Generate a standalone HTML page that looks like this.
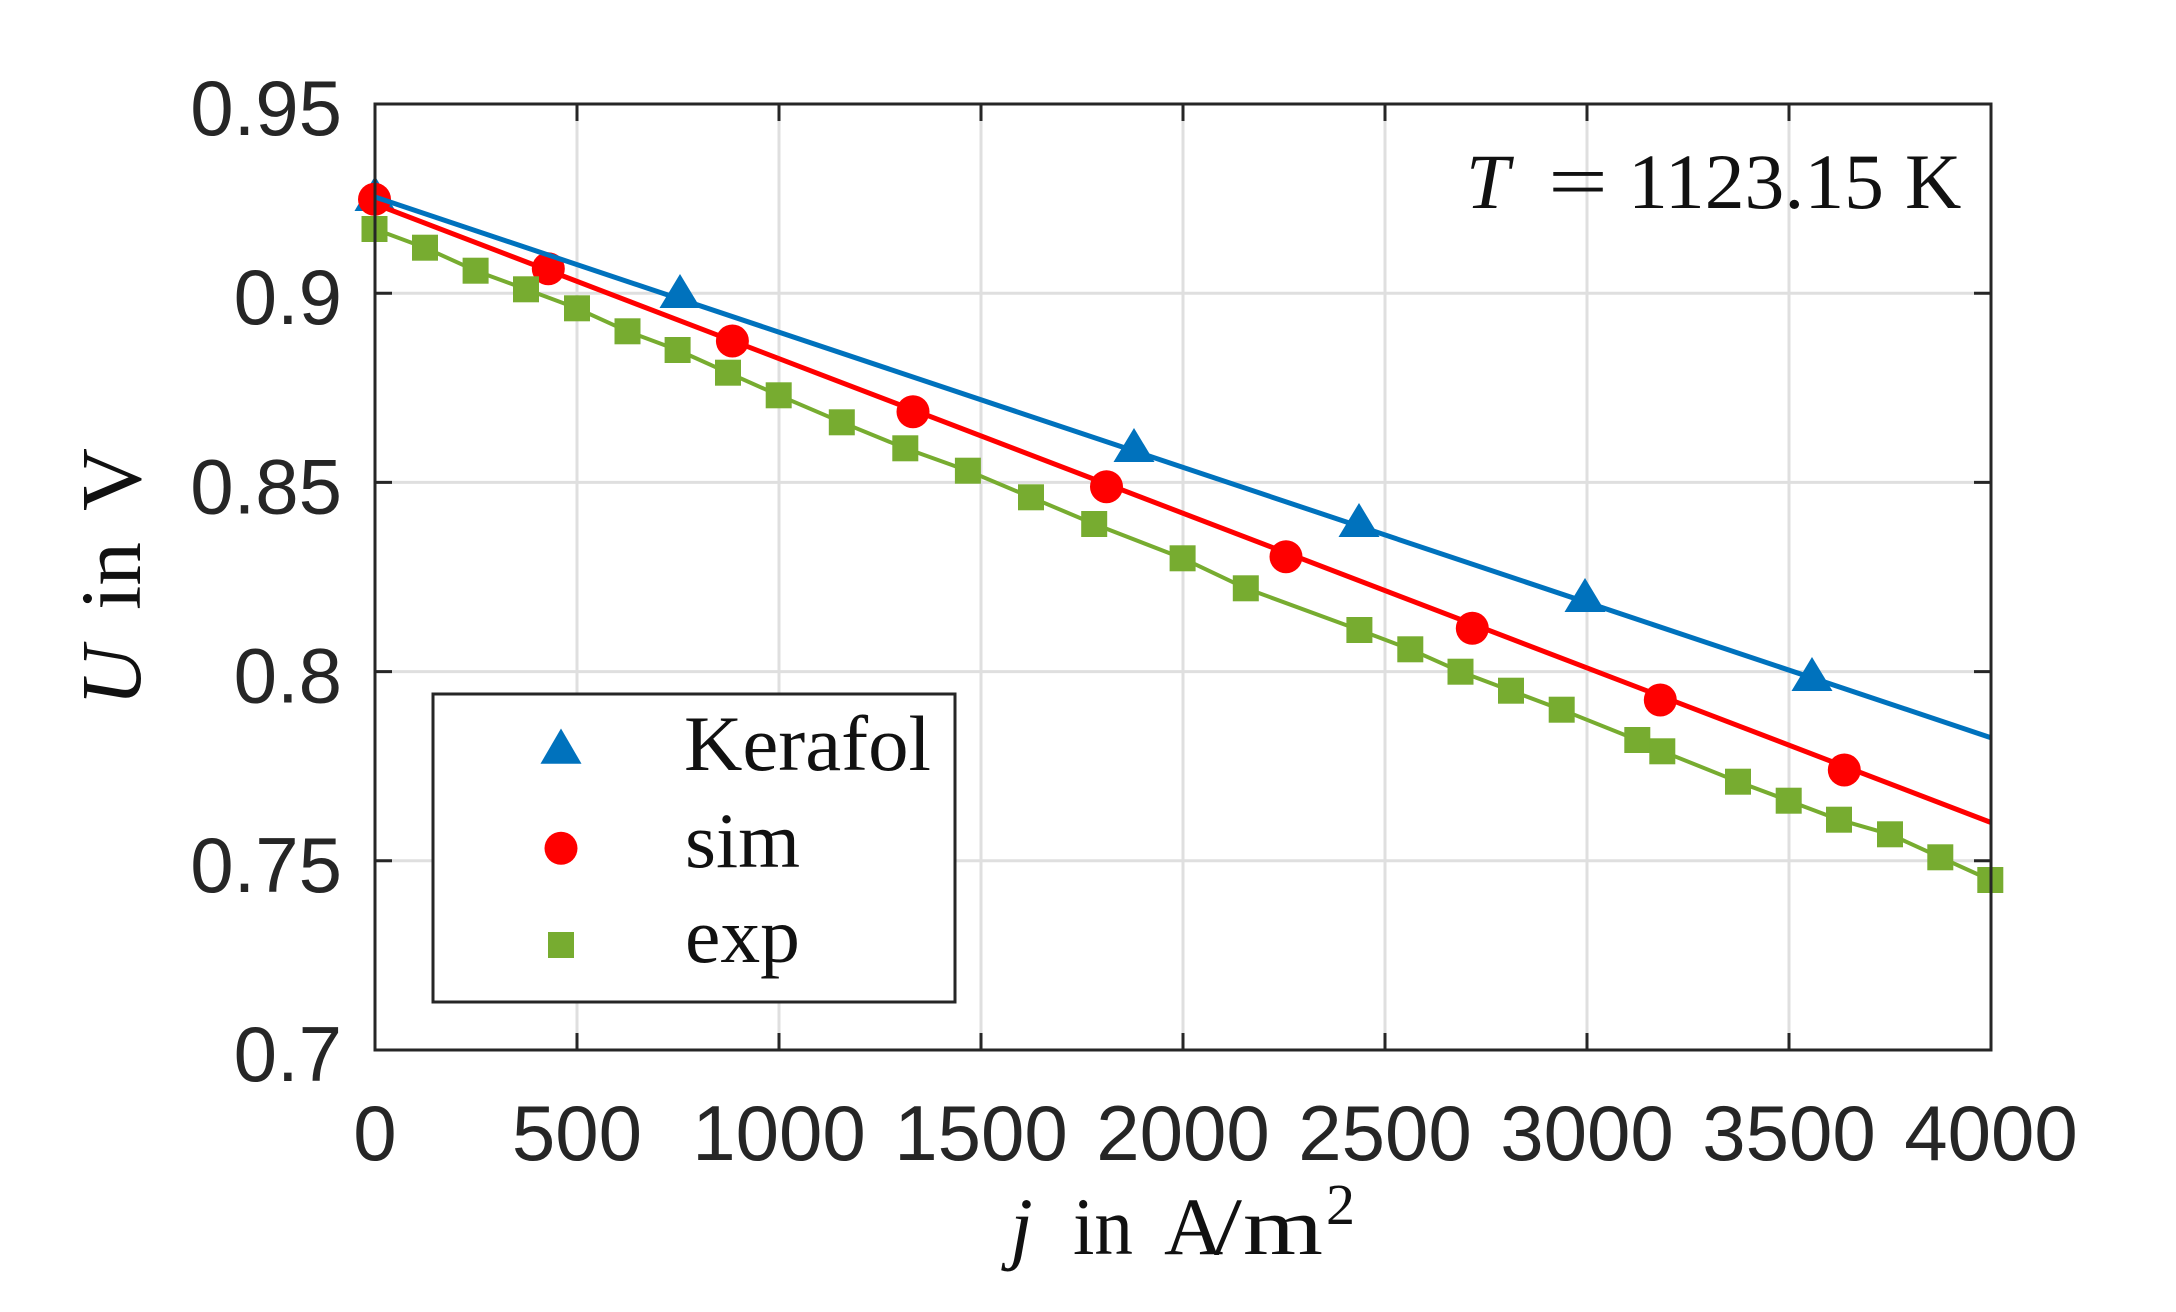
<!DOCTYPE html>
<html>
<head>
<meta charset="utf-8">
<style>
  html,body{margin:0;padding:0;background:#fff;}
  svg{display:block;}
  .tick{font-family:"Liberation Sans",Arial,sans-serif;font-size:78px;fill:#262626;}
  .tex{font-family:"Liberation Serif","Times New Roman",serif;fill:#111;}
</style>
</head>
<body>
<svg width="2176" height="1312" viewBox="0 0 2176 1312" xmlns="http://www.w3.org/2000/svg">
  <rect x="0" y="0" width="2176" height="1312" fill="#fff"/>

  <!-- grid -->
  <g stroke="#dfdfdf" stroke-width="3">
    <line x1="577" y1="104" x2="577" y2="1050"/>
    <line x1="779" y1="104" x2="779" y2="1050"/>
    <line x1="981" y1="104" x2="981" y2="1050"/>
    <line x1="1183" y1="104" x2="1183" y2="1050"/>
    <line x1="1385" y1="104" x2="1385" y2="1050"/>
    <line x1="1587" y1="104" x2="1587" y2="1050"/>
    <line x1="1789" y1="104" x2="1789" y2="1050"/>
    <line x1="375" y1="293.2" x2="1991" y2="293.2"/>
    <line x1="375" y1="482.4" x2="1991" y2="482.4"/>
    <line x1="375" y1="671.6" x2="1991" y2="671.6"/>
    <line x1="375" y1="860.8" x2="1991" y2="860.8"/>
  </g>

  <!-- Kerafol triangles -->
  <g fill="#0072BD">
    <polygon points="354.5,211 395.5,211 375,176"/>
    <polygon points="659.5,308 700.5,308 680,274"/>
    <polygon points="1113.5,462 1154.5,462 1134,428"/>
    <polygon points="1338.5,537 1379.5,537 1359,503"/>
    <polygon points="1564.5,612 1605.5,612 1585,578"/>
    <polygon points="1791.5,691 1832.5,691 1812,657"/>
  </g>

  <!-- sim circles -->
  <g fill="#FF0000">
    <circle cx="374.5" cy="199.3" r="16.5"/>
    <circle cx="548.3" cy="268.7" r="16.5"/>
    <circle cx="732.4" cy="341" r="16.5"/>
    <circle cx="913" cy="411.7" r="16.5"/>
    <circle cx="1106.5" cy="486.7" r="16.5"/>
    <circle cx="1286" cy="556.7" r="16.5"/>
    <circle cx="1472.3" cy="628.3" r="16.5"/>
    <circle cx="1660.3" cy="700" r="16.5"/>
    <circle cx="1844.3" cy="770" r="16.5"/>
  </g>

  <!-- exp line + squares -->
  <polyline fill="none" stroke="#77AC30" stroke-width="4" stroke-linejoin="round"
    points="374.5,229 425,247.7 475.6,270.7 526,289.3 577,308.3 627.5,331.3 677.6,350 728,372.7 778.7,395.3 841.8,422.3 905.3,448.3 967.9,470.7 1031,497.3 1094.2,524 1182.6,558.3 1245.8,588.3 1359.4,630 1410.3,649.3 1460.5,671.7 1511,690.7 1561.7,709.7 1637.3,740 1662.3,751.3 1738,781.7 1788.7,800.7 1839,819.7 1890,834.3 1940.3,857.3 1990.3,880"/>
  <g fill="#77AC30">
    <rect x="361.5" y="216" width="26" height="26"/>
    <rect x="412" y="234.7" width="26" height="26"/>
    <rect x="462.6" y="257.7" width="26" height="26"/>
    <rect x="513" y="276.3" width="26" height="26"/>
    <rect x="564" y="295.3" width="26" height="26"/>
    <rect x="614.5" y="318.3" width="26" height="26"/>
    <rect x="664.6" y="337" width="26" height="26"/>
    <rect x="715" y="359.7" width="26" height="26"/>
    <rect x="765.7" y="382.3" width="26" height="26"/>
    <rect x="828.8" y="409.3" width="26" height="26"/>
    <rect x="892.3" y="435.3" width="26" height="26"/>
    <rect x="954.9" y="457.7" width="26" height="26"/>
    <rect x="1018" y="484.3" width="26" height="26"/>
    <rect x="1081.2" y="511" width="26" height="26"/>
    <rect x="1169.6" y="545.3" width="26" height="26"/>
    <rect x="1232.8" y="575.3" width="26" height="26"/>
    <rect x="1346.4" y="617" width="26" height="26"/>
    <rect x="1397.3" y="636.3" width="26" height="26"/>
    <rect x="1447.5" y="658.7" width="26" height="26"/>
    <rect x="1498" y="677.7" width="26" height="26"/>
    <rect x="1548.7" y="696.7" width="26" height="26"/>
    <rect x="1624.3" y="727" width="26" height="26"/>
    <rect x="1649.3" y="738.3" width="26" height="26"/>
    <rect x="1725" y="768.7" width="26" height="26"/>
    <rect x="1775.7" y="787.7" width="26" height="26"/>
    <rect x="1826" y="806.7" width="26" height="26"/>
    <rect x="1877" y="821.3" width="26" height="26"/>
    <rect x="1927.3" y="844.3" width="26" height="26"/>
    <rect x="1977.3" y="867" width="26" height="26"/>
  </g>

  <!-- fit lines -->
  <line x1="375" y1="204" x2="1991" y2="822.5" stroke="#FF0000" stroke-width="5"/>
  <line x1="375" y1="197" x2="1991" y2="737.7" stroke="#0072BD" stroke-width="5"/>

  <!-- axes box -->
  <rect x="375" y="104" width="1616" height="946" fill="none" stroke="#262626" stroke-width="3"/>
  <!-- ticks -->
  <g stroke="#262626" stroke-width="3">
    <line x1="577" y1="1050" x2="577" y2="1033"/><line x1="577" y1="104" x2="577" y2="121"/>
    <line x1="779" y1="1050" x2="779" y2="1033"/><line x1="779" y1="104" x2="779" y2="121"/>
    <line x1="981" y1="1050" x2="981" y2="1033"/><line x1="981" y1="104" x2="981" y2="121"/>
    <line x1="1183" y1="1050" x2="1183" y2="1033"/><line x1="1183" y1="104" x2="1183" y2="121"/>
    <line x1="1385" y1="1050" x2="1385" y2="1033"/><line x1="1385" y1="104" x2="1385" y2="121"/>
    <line x1="1587" y1="1050" x2="1587" y2="1033"/><line x1="1587" y1="104" x2="1587" y2="121"/>
    <line x1="1789" y1="1050" x2="1789" y2="1033"/><line x1="1789" y1="104" x2="1789" y2="121"/>
    <line x1="375" y1="293.2" x2="392" y2="293.2"/><line x1="1991" y1="293.2" x2="1974" y2="293.2"/>
    <line x1="375" y1="482.4" x2="392" y2="482.4"/><line x1="1991" y1="482.4" x2="1974" y2="482.4"/>
    <line x1="375" y1="671.6" x2="392" y2="671.6"/><line x1="1991" y1="671.6" x2="1974" y2="671.6"/>
    <line x1="375" y1="860.8" x2="392" y2="860.8"/><line x1="1991" y1="860.8" x2="1974" y2="860.8"/>
  </g>

  <!-- y tick labels -->
  <g class="tick" text-anchor="end">
    <text x="342" y="135">0.95</text>
    <text x="342" y="324.2">0.9</text>
    <text x="342" y="513.4">0.85</text>
    <text x="342" y="702.6">0.8</text>
    <text x="342" y="891.8">0.75</text>
    <text x="342" y="1081">0.7</text>
  </g>
  <!-- x tick labels -->
  <g class="tick" text-anchor="middle">
    <text x="375" y="1160">0</text>
    <text x="577" y="1160">500</text>
    <text x="779" y="1160">1000</text>
    <text x="981" y="1160">1500</text>
    <text x="1183" y="1160">2000</text>
    <text x="1385" y="1160">2500</text>
    <text x="1587" y="1160">3000</text>
    <text x="1789" y="1160">3500</text>
    <text x="1991" y="1160">4000</text>
  </g>

  <!-- x label -->
  <g class="tex" font-size="82">
    <text x="1010" y="1254" font-style="italic">j</text>
    <text x="1073" y="1254" textLength="60" lengthAdjust="spacingAndGlyphs">in</text>
    <text x="1164" y="1254">A</text>
    <text x="1214" y="1254" textLength="28" lengthAdjust="spacingAndGlyphs">/</text>
    <text x="1243" y="1254" textLength="80" lengthAdjust="spacingAndGlyphs">m</text>
    <text x="1326" y="1224" font-size="58">2</text>
  </g>

  <!-- y label -->
  <g class="tex" font-size="86" transform="translate(140,0) rotate(-90)">
    <text x="-706" y="0" font-style="italic" textLength="60" lengthAdjust="spacingAndGlyphs">U</text>
    <text x="-610" y="0" textLength="68" lengthAdjust="spacingAndGlyphs">in</text>
    <text x="-511" y="0" textLength="63" lengthAdjust="spacingAndGlyphs">V</text>
  </g>

  <!-- T label -->
  <g class="tex" font-size="78">
    <text x="1466" y="208" font-style="italic">T</text>
    <text x="1548" y="208" textLength="60" lengthAdjust="spacingAndGlyphs">=</text>
    <text x="1628" y="208" textLength="256" lengthAdjust="spacingAndGlyphs">1123.15</text>
    <text x="1905" y="208">K</text>
  </g>

  <!-- legend -->
  <rect x="433" y="694" width="522" height="308" fill="#fff" stroke="#262626" stroke-width="3"/>
  <polygon points="540.5,763.7 581.5,763.7 561,728.5" fill="#0072BD"/>
  <circle cx="561" cy="848.3" r="16.5" fill="#FF0000"/>
  <rect x="548" y="932" width="26" height="26" fill="#77AC30"/>
  <g class="tex" font-size="78">
    <text x="684" y="770" textLength="247" lengthAdjust="spacingAndGlyphs">Kerafol</text>
    <text x="685" y="867" textLength="115" lengthAdjust="spacingAndGlyphs">sim</text>
    <text x="685" y="962" textLength="115" lengthAdjust="spacingAndGlyphs">exp</text>
  </g>
</svg>
</body>
</html>
